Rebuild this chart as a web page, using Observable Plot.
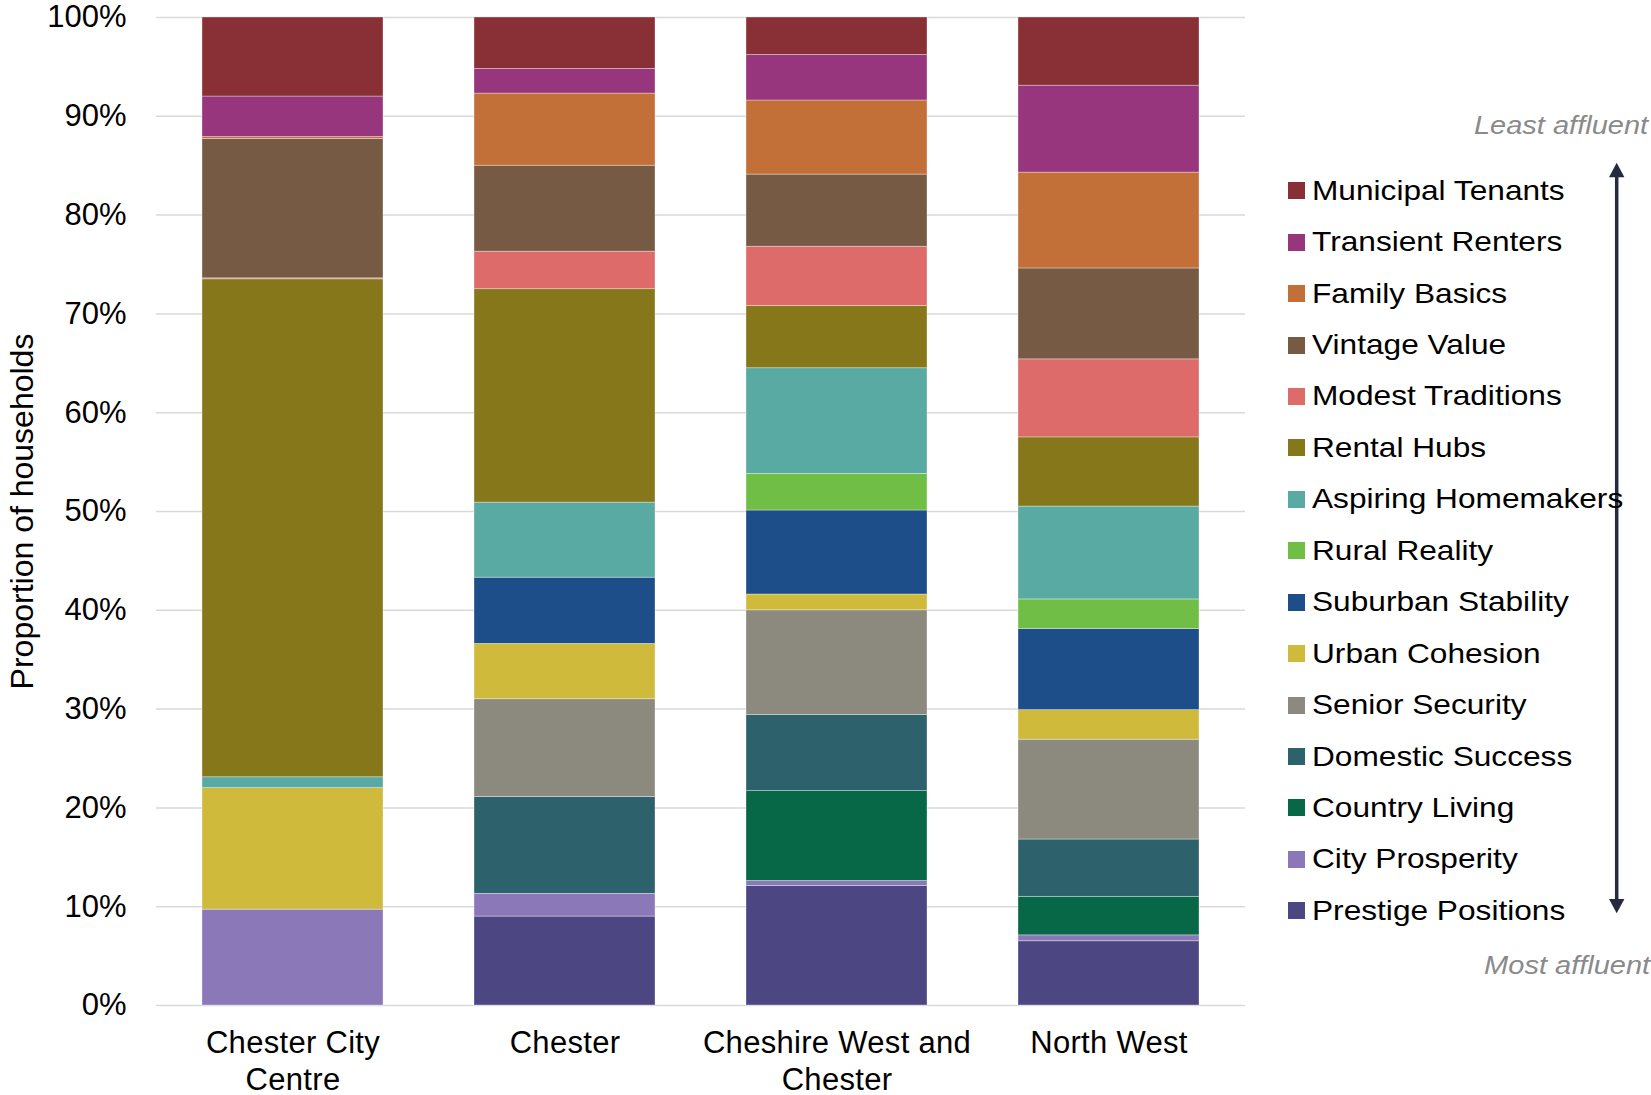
<!DOCTYPE html>
<html>
<head>
<meta charset="utf-8">
<script src="https://cdn.jsdelivr.net/npm/d3@7"></script>
<script src="https://cdn.jsdelivr.net/npm/@observablehq/plot@0.6"></script>
<style>
  body { margin: 0; background: #fff; font-family: "Liberation Sans", Arial, sans-serif; }
  #wrap { position: relative; width: 1651px; height: 1095px; overflow: hidden; }
  #legend { position: absolute; left: 1288px; top: 165px; }
  .item { display: flex; align-items: center; height: 51.45px; font-size: 28px; color: #000; white-space: nowrap; }
  .item span { display: inline-block; transform: scaleX(1.13); transform-origin: 0 50%; }
  .sw { width: 17px; height: 17px; margin-right: 7px; flex: none; }
  .note { position: absolute; right: 3px; font-size: 25px; line-height: 1; font-style: italic; color: #8a8a8a;
          white-space: nowrap; transform: scaleX(1.16); transform-origin: 100% 50%; }
  #arrow { position: absolute; left: 1600px; top: 150px; }
</style>
</head>
<body>
<div id="wrap">
  <div id="chart"></div>
  <div class="note" style="top:113px">Least affluent</div>
  <svg id="arrow" width="34" height="780" viewBox="0 0 34 780">
    <line x1="16.7" y1="24" x2="16.7" y2="752" stroke="#262a3e" stroke-width="3.5"></line>
    <path d="M16.7 12.7 L24.4 27.3 L9 27.3 Z" fill="#262a3e"></path>
    <path d="M16.7 763.3 L24.4 749 L9 749 Z" fill="#262a3e"></path>
  </svg>
  <div id="legend"></div>
  <div class="note" style="top:953px; right:1px">Most affluent</div>
</div>
<script>
// Areas compared, left to right
const areas = ["Chester City Centre", "Chester", "Cheshire West and Chester", "North West"];
const areaTickLabels = ["Chester City\nCentre", "Chester", "Cheshire West and\nChester", "North West"];

// Household groups, stacked from the bottom (most affluent) to the top (least affluent)
const groups = [
  "Prestige Positions", "City Prosperity", "Country Living", "Domestic Success",
  "Senior Security", "Urban Cohesion", "Suburban Stability", "Rural Reality",
  "Aspiring Homemakers", "Rental Hubs", "Modest Traditions", "Vintage Value",
  "Family Basics", "Transient Renters", "Municipal Tenants"
];
const groupColors = [
  "#4c4682", "#8b78b8", "#066847", "#2d616b",
  "#8c897f", "#d0ba3c", "#1e4e8a", "#71be47",
  "#59aaa2", "#85771a", "#dc6b6a", "#765a44",
  "#c27038", "#98367d", "#883035"
];

// Share of households (%) in each group, same order as `groups`
const chesterCityCentre = [0, 9.7, 0, 0, 0, 12.3, 0, 0, 1.1, 50.4, 0.1, 14.1, 0.2, 4.1, 8.0];
const chester = [9.0, 2.3, 0, 9.8, 9.9, 5.6, 6.7, 0, 7.6, 21.6, 3.8, 8.7, 7.3, 2.5, 5.2];
const cheshireWestAndChester = [12.1, 0.5, 9.1, 7.7, 10.6, 1.6, 8.5, 3.7, 10.7, 6.3, 6.0, 7.3, 7.5, 4.6, 3.8];
const northWest = [6.5, 0.6, 3.9, 5.8, 10.1, 3.0, 8.2, 3.0, 9.4, 7.0, 7.9, 9.2, 9.7, 8.8, 6.9];

const yTicks = [0, 10, 20, 30, 40, 50, 60, 70, 80, 90, 100];

const seriesByArea = [chesterCityCentre, chester, cheshireWestAndChester, northWest];
const rows = areas.flatMap((area, i) =>
  groups.map((group, j) => ({area, group, value: seriesByArea[i][j]}))
);
const tickLabelFor = new Map(areas.map((a, i) => [a, areaTickLabels[i]]));

const chart = Plot.plot({
  width: 1651,
  height: 1095,
  marginLeft: 156,
  marginRight: 406,
  marginTop: 17,
  marginBottom: 90,
  style: {fontFamily: '"Liberation Sans", Arial, sans-serif', fontSize: "31px", color: "#000", background: "#fff"},
  x: {domain: areas, paddingInner: 1 / 3, paddingOuter: 1 / 6, label: null},
  y: {domain: [0, 100], label: null},
  color: {domain: groups, range: groupColors},
  marks: [
    Plot.gridY(yTicks, {stroke: "#d9d9d9", strokeOpacity: 1, strokeWidth: 1.5}),
    Plot.barY(rows, {
      x: "area", y: "value", fill: "group", order: groups,
      stroke: "#ffffff", strokeOpacity: 0.45, strokeWidth: 0.75
    }),
    Plot.axisY(yTicks, {
      tickSize: 0, tickPadding: 30, tickFormat: d => d + "%",
      label: "Proportion of households", labelAnchor: "center", labelArrow: "none", labelOffset: 146
    }),
    Plot.axisX({
      tickSize: 0, tickPadding: 22, lineHeight: 1.18,
      tickFormat: d => tickLabelFor.get(d), label: null
    })
  ]
});
document.getElementById("chart").appendChild(chart);

// Slightly larger axis title, slightly wider category labels
d3.select(chart).selectAll('g[aria-label="y-axis label"] text').style("font-size", "32px");
d3.select(chart).selectAll('g[aria-label="x-axis tick label"] text').style("letter-spacing", "0.3px");

// Legend, least affluent group first
const legend = d3.select("#legend");
groups.slice().reverse().forEach(g => {
  const item = legend.append("div").attr("class", "item");
  item.append("div").attr("class", "sw").style("background", groupColors[groups.indexOf(g)]);
  item.append("span").text(g);
});
</script>
</body>
</html>
